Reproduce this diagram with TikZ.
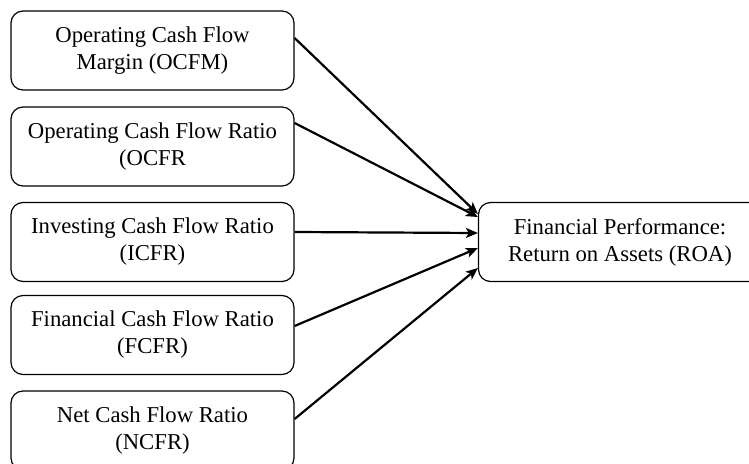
\documentclass[tikz,border=0pt]{standalone}
\usepackage{fontspec}
\setmainfont{Liberation Serif}
\usetikzlibrary{arrows.meta}
\begin{document}
\begin{tikzpicture}[x=1pt,y=-1pt,
  box/.style={draw,line width=1.2pt,rounded corners=12pt,minimum width=283pt,minimum height=79pt,align=center,inner sep=0pt,font=\fontsize{22.7}{27}\selectfont},
  conn/.style={line width=2.2pt,-{Stealth[length=12pt,width=10pt,inset=3pt]}}]
\useasboundingbox (0,0) rectangle (749,463);
\clip (0,0) rectangle (749,463);
\node[box] (b1) at (152.5,50.5) {Operating Cash Flow\\Margin (OCFM)};
\node[box] (b2) at (152.5,146.5) {Operating Cash Flow Ratio\\(OCFR};
\node[box] (b3) at (152.5,242) {Investing Cash Flow Ratio\\(ICFR)};
\node[box] (b4) at (152.5,335) {Financial Cash Flow Ratio\\(FCFR)};
\node[box] (b5) at (152.5,430.5) {Net Cash Flow Ratio\\(NCFR)};
\node[box] (roa) at (620,242) {Financial Performance:\\Return on Assets (ROA)};
\draw[conn] ([yshift=12.5pt]b1.east) -- ([yshift=28pt]roa.west);
\draw[conn] ([yshift=23.5pt]b2.east) -- ([yshift=25pt]roa.west);
\draw[conn] ([yshift=10pt]b3.east) -- ([yshift=9pt]roa.west);
\draw[conn] ([yshift=9pt]b4.east) -- ([yshift=-6pt]roa.west);
\draw[conn] ([yshift=11.5pt]b5.east) -- ([yshift=-26pt]roa.west);
\end{tikzpicture}
\end{document}
